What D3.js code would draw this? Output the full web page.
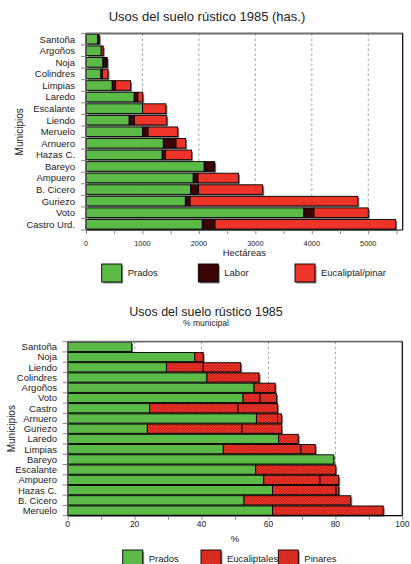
<!DOCTYPE html>
<html>
<head>
<meta charset="utf-8">
<script src="https://cdn.jsdelivr.net/npm/d3@7"></script>
<style>
  html, body { margin: 0; padding: 0; background: #fff; }
  svg { display: block; font-family: "Liberation Sans", Arial, Helvetica, sans-serif; }
</style>
</head>
<body>
<svg id="chart" width="411" height="564"></svg>
<script>
// ---- Hectares of rustic land use by municipality, 1985 ----
const munisHa = ["Santoña","Argoños","Noja","Colindres","Limpias","Laredo","Escalante","Liendo","Meruelo","Arnuero","Hazas C.","Bareyo","Ampuero","B. Cicero","Guriezo","Voto","Castro Urd."];
const pradosHa = [205, 270, 300, 265, 465, 855, 1000, 765, 1000, 1370, 1350, 2095, 1900, 1855, 1760, 3860, 2060];
const laborHa  = [30, 0, 70, 25, 60, 65, 0, 95, 100, 225, 60, 185, 85, 140, 85, 180, 225];
const eucalHa  = [0, 35, 5, 100, 265, 85, 415, 570, 525, 170, 460, 0, 715, 1135, 2970, 960, 3200];
const ticksHa = [0, 1000, 2000, 3000, 4000, 5000];
const seriesHa = ["Prados", "Labor", "Eucaliptal/pinar"];

// ---- Share of municipal area (%) ----
const munisPct = ["Santoña","Noja","Liendo","Colindres","Argoños","Voto","Castro","Arnuero","Guriezo","Laredo","Limpias","Bareyo","Escalante","Ampuero","Hazas C.","B. Cicero","Meruelo"];
const pradosPct  = [19.1, 38.0, 29.5, 41.6, 55.7, 52.4, 24.5, 56.4, 23.8, 63.0, 46.5, 79.5, 56.2, 58.6, 61.2, 52.7, 61.2];
const eucalPct   = [0, 2.5, 11.0, 15.6, 6.3, 5.1, 26.4, 6.3, 28.3, 5.9, 23.2, 0, 23.9, 16.8, 19.0, 31.9, 33.1];
const pinaresPct = [0, 0, 11.2, 0, 0, 4.9, 11.8, 1.2, 11.8, 0, 4.3, 0, 0, 5.6, 0.8, 0, 0];
const ticksPct = [0, 20, 40, 60, 80, 100];
const seriesPct = ["Prados", "Eucaliptales", "Pinares"];

const GREEN = "#5cba47", DARK = "#3b0303", RED = "#ee3328";
const svg = d3.select("#chart");

// Cross-hatched red fill for forest plantations
const defs = svg.append("defs");
const pat = defs.append("pattern").attr("id", "hatch").attr("patternUnits", "userSpaceOnUse")
  .attr("width", 3).attr("height", 3);
pat.append("rect").attr("width", 3).attr("height", 3).attr("fill", RED);
pat.append("path").attr("d", "M0,3 L3,0 M-1,1 L1,-1 M2,4 L4,2").attr("stroke", "#a8140f").attr("stroke-width", 0.6);
pat.append("path").attr("d", "M0,0 L3,3 M-1,2 L1,4 M2,-1 L4,1").attr("stroke", "#b8231a").attr("stroke-width", 0.4);

function drawPanel(o) {
  const g = svg.append("g");
  const x = d3.scaleLinear().domain([0, o.xMax]).range([o.left, o.right]);
  const y = d3.scaleBand().domain(o.cats).range([o.top, o.bottom])
    .paddingInner(o.padIn).paddingOuter(o.padOut);

  // dashed grid
  g.selectAll(".grid").data(o.grid).join("line")
    .attr("x1", d => x(d)).attr("x2", d => x(d))
    .attr("y1", o.top).attr("y2", o.bottom)
    .attr("stroke", "#8a8a8a").attr("stroke-width", 0.8).attr("stroke-dasharray", "2.5,2.5");

  // stacked rows
  const rows = o.cats.map((c, i) => {
    let acc = 0;
    const segs = o.series.map((s, k) => {
      const v = s[i]; const seg = { x0: acc, x1: acc + v, k }; acc += v; return seg;
    }).filter(s => s.x1 > s.x0);
    return { c, total: acc, segs };
  });

  // drop shadows
  g.selectAll(".shadow").data(rows).join("rect")
    .attr("x", x(0) + 1.5).attr("y", d => y(d.c) + 1.5)
    .attr("width", d => x(d.total) - x(0)).attr("height", y.bandwidth())
    .attr("fill", "#7d7d7d");

  const rg = g.selectAll(".row").data(rows).join("g");
  rg.selectAll("rect").data(d => d.segs.map(s => ({ ...s, c: d.c }))).join("rect")
    .attr("x", d => x(d.x0)).attr("y", d => y(d.c))
    .attr("width", d => x(d.x1) - x(d.x0)).attr("height", y.bandwidth())
    .attr("fill", d => o.fills[d.k])
    .attr("stroke", "#000").attr("stroke-width", 0.9);

  // frame
  g.append("line").attr("x1", o.left).attr("x2", o.right + 0.5).attr("y1", o.top).attr("y2", o.top)
    .attr("stroke", "#6e6e6e").attr("stroke-width", 1.8);
  g.append("line").attr("x1", o.right).attr("x2", o.right).attr("y1", o.top).attr("y2", o.bottom)
    .attr("stroke", "#000").attr("stroke-width", 1.2);
  g.append("line").attr("x1", o.left).attr("x2", o.right).attr("y1", o.bottom).attr("y2", o.bottom)
    .attr("stroke", "#000").attr("stroke-width", 1.2);
  g.append("line").attr("x1", o.left).attr("x2", o.left).attr("y1", o.top).attr("y2", o.bottom)
    .attr("stroke", "#555").attr("stroke-width", 1.4);

  // x axis
  const xAxis = d3.axisBottom(x).tickValues(o.minor).tickSize(4).tickFormat("");
  const xa = g.append("g").attr("transform", `translate(0,${o.bottom})`).call(xAxis);
  xa.select(".domain").remove();
  xa.selectAll(".tick line").attr("stroke", "#777").attr("stroke-width", 0.9);
  g.selectAll(".xl").data(o.ticks).join("text")
    .attr("x", d => x(d)).attr("y", o.tickY).attr("text-anchor", "middle")
    .attr("font-size", o.tickFont).attr("fill", "#222").text(d => d);
  g.append("text").attr("x", (o.left + o.right) / 2).attr("y", o.xTitleY)
    .attr("text-anchor", "middle").attr("font-size", 9.5).attr("fill", "#222").text(o.xTitle);

  // y axis
  const step = y.step();
  const y0 = y(o.cats[0]) - y.paddingInner() * step / 2;
  const bounds = d3.range(o.cats.length + 1).map(i => y0 + i * step);
  g.selectAll(".yt").data(bounds).join("line")
    .attr("x1", o.left - 5).attr("x2", o.left).attr("y1", d => d).attr("y2", d => d)
    .attr("stroke", "#777").attr("stroke-width", 0.9);
  g.selectAll(".yl").data(o.cats).join("text")
    .attr("x", o.labelX).attr("y", d => y(d) + y.bandwidth() / 2)
    .attr("dy", "0.36em").attr("text-anchor", "end").attr("font-size", 9.5).attr("fill", "#222").text(d => d);
  g.append("text").attr("transform", `translate(${o.yTitleX},${(o.top + o.bottom) / 2}) rotate(-90)`)
    .attr("text-anchor", "middle").attr("font-size", 10).attr("fill", "#222").text("Municipios");

  // legend
  const lg = g.selectAll(".lg").data(o.legendNames).join("g")
    .attr("transform", (d, i) => `translate(${o.legendX[i]},${o.legendY})`);
  lg.append("rect").attr("x", 1.5).attr("y", 1.5).attr("width", 20).attr("height", 18).attr("fill", "#8a8a8a");
  lg.append("rect").attr("width", 20).attr("height", 18).attr("fill", (d, i) => o.fills[i])
    .attr("stroke", "#000").attr("stroke-width", 0.9);
  lg.append("text").attr("x", 26).attr("y", 9).attr("dy", "0.36em")
    .attr("font-size", 9.5).attr("fill", "#222").text(d => d);
}

// Titles
svg.append("text").attr("x", 207).attr("y", 21).attr("text-anchor", "middle")
  .attr("font-size", 13).attr("fill", "#222").text("Usos del suelo rústico 1985 (has.)");
svg.append("text").attr("x", 206).attr("y", 316).attr("text-anchor", "middle")
  .attr("font-size", 12.5).attr("fill", "#222").text("Usos del suelo rústico 1985");
svg.append("text").attr("x", 206).attr("y", 326).attr("text-anchor", "middle")
  .attr("font-size", 8.5).attr("fill", "#222").text("% municipal");

drawPanel({
  cats: munisHa, series: [pradosHa, laborHa, eucalHa], fills: [GREEN, DARK, RED],
  xMax: 5610, left: 86, right: 402.7, top: 33.5, bottom: 230,
  padIn: 0.17, padOut: 0.08,
  grid: [1000, 2000, 3000, 4000, 5000], ticks: ticksHa, minor: d3.range(0, 5501, 500),
  tickY: 245.5, tickFont: 7.4, xTitle: "Hectáreas", xTitleY: 256,
  labelX: 75, yTitleX: 23,
  legendNames: seriesHa, legendX: [101.7, 198.3, 295], legendY: 264
});

drawPanel({
  cats: munisPct, series: [pradosPct, eucalPct, pinaresPct], fills: [GREEN, "url(#hatch)", "url(#hatch)"],
  xMax: 100, left: 67.7, right: 402.3, top: 341.7, bottom: 515.7,
  padIn: 0.1, padOut: 0.05,
  grid: [20, 40, 60, 80], ticks: ticksPct, minor: d3.range(0, 101, 10),
  tickY: 527, tickFont: 8.5, xTitle: "%", xTitleY: 542,
  labelX: 57, yTitleX: 15,
  legendNames: seriesPct, legendX: [122.7, 201, 278.3], legendY: 550
});
</script>
</body>
</html>
